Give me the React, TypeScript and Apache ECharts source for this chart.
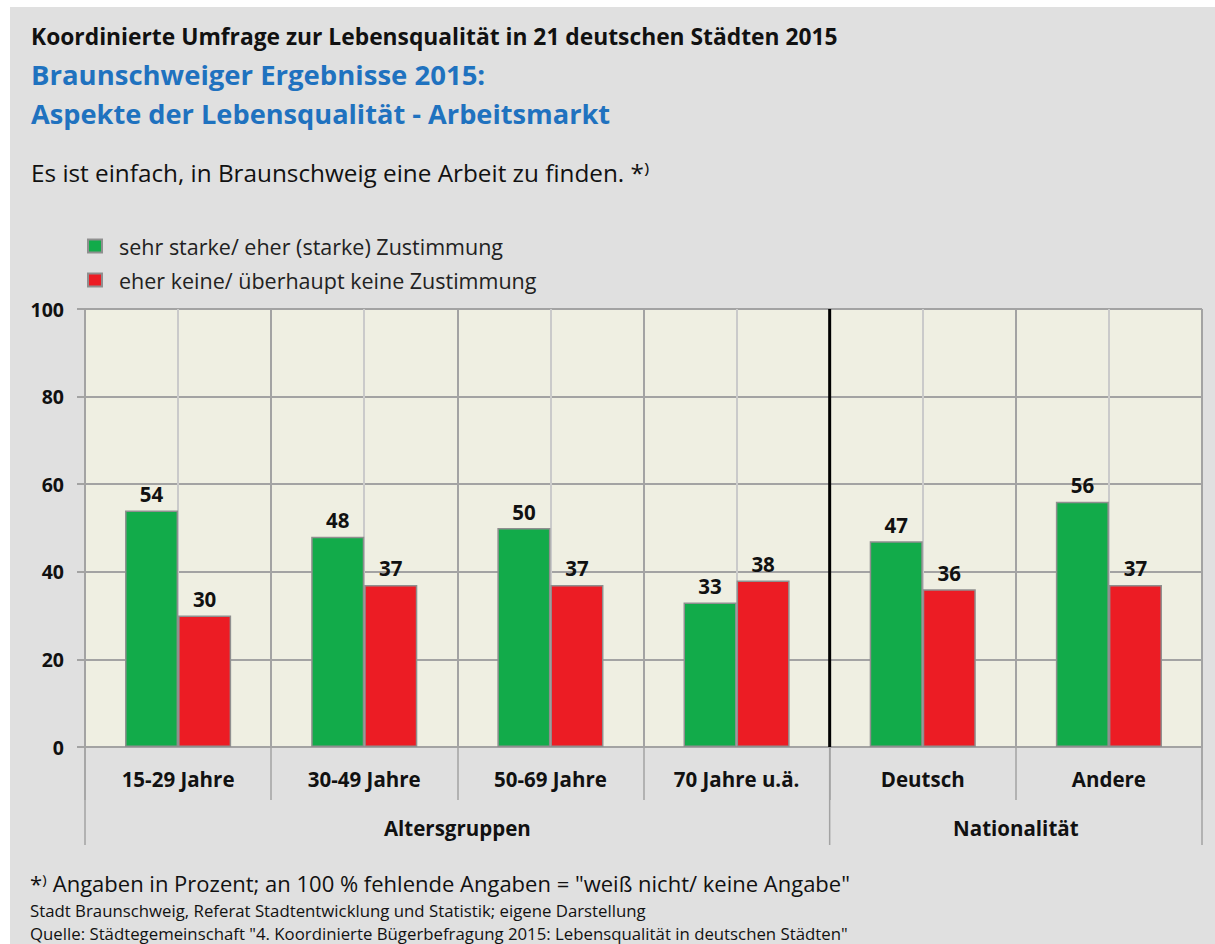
import React, { useEffect, useRef } from "react";
import * as echarts from "echarts";

const categories = ["15-29 Jahre", "30-49 Jahre", "50-69 Jahre", "70 Jahre u.ä.", "Deutsch", "Andere"];
const zustimmung = [54, 48, 50, 33, 47, 56];
const keineZustimmung = [30, 37, 37, 38, 36, 37];
const seriesNames = ["sehr starke/ eher (starke) Zustimmung", "eher keine/ überhaupt keine Zustimmung"];
const groupNames = ["Altersgruppen", "Nationalität"];
const groupSizes = [4, 2];
const yMin = 0;
const yMax = 100;
const yStep = 20;

const FONT = "'Open Sans', sans-serif";
const GREEN = "#12ab4a";
const RED = "#ec1c24";
const GRID = "#a3a3a3";

export default function App() {
  const ref = useRef<HTMLDivElement>(null);
  useEffect(() => {
    if (!ref.current) return;
    const chart = echarts.init(ref.current, null, { renderer: "svg" });
    const halfCats: string[] = [];
    categories.forEach((c) => { halfCats.push(c + "a", c + "b"); });
    const labelStyle = { show: true, position: "top", distance: 6, fontFamily: FONT, fontWeight: "bold", fontSize: 20.5, color: "#111" };
    chart.setOption({
      animation: false,
      backgroundColor: "transparent",
      grid: { left: 85, right: 13, top: 309, bottom: 197, show: true, backgroundColor: "#efefe2", borderColor: GRID, borderWidth: 1 },
      legend: {
        orient: "vertical", left: 82, top: 230, itemWidth: 14, itemHeight: 13, itemGap: 12,
        icon: "rect",
        textStyle: { fontFamily: FONT, fontSize: 21.5, color: "#222", padding: [0, 0, 0, 12] },
        data: seriesNames,
      },
      xAxis: [
        {
          type: "category", data: categories, boundaryGap: true,
          axisLine: { show: true, lineStyle: { color: GRID, width: 2 } },
          axisTick: { show: true, interval: 0, length: 53, lineStyle: { color: GRID, width: 1.5 } },
          axisLabel: { interval: 0, margin: 21, fontFamily: FONT, fontWeight: "bold", fontSize: 20.5, color: "#111" },
          splitLine: { show: true, interval: 0, lineStyle: { color: GRID, width: 2 } },
          z: 3,
        },
        {
          type: "category", data: halfCats, boundaryGap: true, position: "bottom",
          axisLine: { show: false }, axisTick: { show: false }, axisLabel: { show: false },
          splitLine: { show: true, interval: 0, lineStyle: { color: "#cacaca", width: 2 } },
          z: 1,
        },
      ],
      yAxis: {
        type: "value", min: yMin, max: yMax, interval: yStep,
        axisLine: { show: true, lineStyle: { color: GRID, width: 2 } },
        axisTick: { show: true, length: 8, lineStyle: { color: GRID, width: 2 } },
        axisLabel: { margin: 21, fontFamily: FONT, fontWeight: "bold", fontSize: 19.5, color: "#111" },
        splitLine: { show: true, lineStyle: { color: GRID, width: 2 } },
      },
      series: [
        {
          name: seriesNames[0], type: "bar", data: zustimmung, barGap: "0%", barCategoryGap: "43%",
          itemStyle: { color: GREEN, borderColor: "#8f8f8f", borderWidth: 1.5 },
          label: labelStyle, z: 5,
        },
        {
          name: seriesNames[1], type: "bar", data: keineZustimmung, barGap: "0%", barCategoryGap: "43%",
          itemStyle: { color: RED, borderColor: "#8f8f8f", borderWidth: 1.5 },
          label: labelStyle, z: 5,
        },
      ],
    });

    const c0 = chart.convertToPixel({ xAxisIndex: 0 }, 0) as number;
    const c1 = chart.convertToPixel({ xAxisIndex: 0 }, 1) as number;
    const band = c1 - c0;
    const edge = (i: number) => c0 - band / 2 + band * i;
    const y0 = chart.convertToPixel({ yAxisIndex: 0 }, yMin) as number;
    const yTop = chart.convertToPixel({ yAxisIndex: 0 }, yMax) as number;

    const txt = (text: string, x: number, y: number, size: number, opts: any = {}) => ({
      type: "text", x, y,
      style: { text, fontFamily: FONT, fontSize: size, fill: "#111", verticalAlign: "middle", ...opts },
    });
    const elements: any[] = [
      txt("Koordinierte Umfrage zur Lebensqualität in 21 deutschen Städten 2015", 31, 36, 22.8, { fontWeight: "bold" }),
      txt("Braunschweiger Ergebnisse 2015:", 31, 74, 27.5, { fontWeight: "bold", fill: "#1f72bf" }),
      txt("Aspekte der Lebensqualität - Arbeitsmarkt", 31, 113, 27.2, { fontWeight: "bold", fill: "#1f72bf" }),
      txt("Es ist einfach, in Braunschweig eine Arbeit zu finden. *⁾", 31, 172, 24.3),
      txt("*⁾ Angaben in Prozent; an 100 % fehlende Angaben = \"weiß nicht/ keine Angabe\"", 30, 883, 22),
      txt("Stadt Braunschweig, Referat Stadtentwicklung und Statistik; eigene Darstellung", 30, 910, 16.8),
      txt("Quelle: Städtegemeinschaft \"4. Koordinierte Bügerbefragung 2015: Lebensqualität in deutschen Städten\"", 30, 933, 16.8),
    ];
    let start = 0;
    const longEdges = [0];
    groupNames.forEach((g, gi) => {
      const end = start + groupSizes[gi];
      longEdges.push(end);
      elements.push(txt(g, (edge(start) + edge(end)) / 2, y0 + 81, 20.5, { fontWeight: "bold", align: "center" }));
      start = end;
    });
    longEdges.forEach((e) => {
      elements.push({ type: "line", shape: { x1: edge(e), y1: y0, x2: edge(e), y2: y0 + 98 }, style: { stroke: GRID, lineWidth: 1.5 } });
    });
    elements.push({ type: "line", z: 10, shape: { x1: edge(groupSizes[0]), y1: yTop, x2: edge(groupSizes[0]), y2: y0 }, style: { stroke: "#000", lineWidth: 3 } });
    chart.setOption({ graphic: elements });

    return () => chart.dispose();
  }, []);

  return (
    <div style={{ position: "absolute", left: 0, top: 0, width: 1215, height: 944, background: "#fff" }}>
      <div style={{ position: "absolute", left: 10, top: 7, right: 0, bottom: 0, background: "#e0e0e0" }} />
      <div ref={ref} style={{ position: "absolute", left: 0, top: 0, width: 1215, height: 944 }} />
    </div>
  );
}
